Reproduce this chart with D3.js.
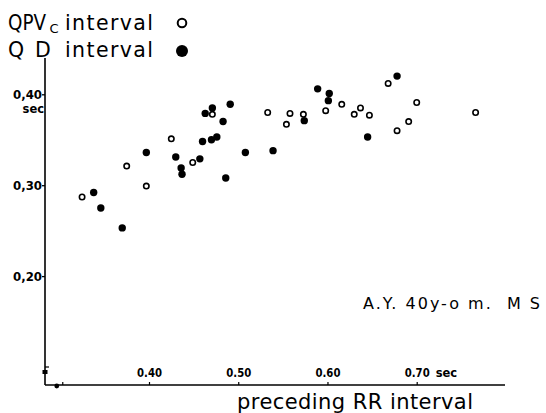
<!DOCTYPE html>
<html>
<head>
<meta charset="utf-8">
<script src="https://cdn.jsdelivr.net/npm/d3@7/dist/d3.min.js"></script>
<style>
  html, body { margin: 0; padding: 0; background: #fff; }
  svg { display: block; }
  text { font-family: "DejaVu Sans", sans-serif; fill: #000; }
</style>
</head>
<body>
<script>
// ---- data ----
// QPVc interval (open circles): [preceding RR (sec), interval (sec)]
const qpvcRR  = [0.325,0.375,0.397,0.425,0.449,0.471,0.533,0.558,0.554,0.573,0.598,0.616,0.630,0.637,0.647,0.668,0.700,0.691,0.678,0.766];
const qpvcVal = [0.287,0.321,0.299,0.351,0.325,0.378,0.380,0.379,0.367,0.378,0.382,0.389,0.378,0.385,0.377,0.412,0.391,0.370,0.360,0.380];
// QD interval (filled circles)
const qdRR  = [0.338,0.346,0.370,0.397,0.430,0.436,0.437,0.457,0.460,0.470,0.476,0.463,0.471,0.483,0.491,0.508,0.486,0.539,0.589,0.602,0.601,0.574,0.645,0.678];
const qdVal = [0.292,0.275,0.253,0.336,0.331,0.319,0.312,0.329,0.348,0.350,0.353,0.379,0.385,0.370,0.389,0.336,0.308,0.338,0.406,0.401,0.393,0.371,0.353,0.420];

const xTicks = [0.40, 0.50, 0.60, 0.70];
const xTickLabels = ["0.40", "0.50", "0.60", "0.70"];
const yTicks = [0.20, 0.30, 0.40];
const yTickLabels = ["0,20", "0,30", "0,40"];

const W = 546, H = 413;
const svg = d3.select("body").append("svg").attr("width", W).attr("height", H);

// scales
const x = d3.scaleLinear().domain([0.40, 0.70]).range([149, 416.7]);
const y = d3.scaleLinear().domain([0.10, 0.40]).range([367, 94.3]);

const axisX0 = 45, axisY0 = 385, axisXEnd = 505, axisYTop = 58;

// axis lines
svg.append("line").attr("x1", axisX0).attr("x2", axisX0).attr("y1", axisYTop).attr("y2", axisY0)
  .attr("stroke", "#000").attr("stroke-width", 1.6);
svg.append("line").attr("x1", axisX0).attr("x2", axisXEnd).attr("y1", axisY0).attr("y2", axisY0)
  .attr("stroke", "#000").attr("stroke-width", 1.3);

// y axis ticks via d3 axis
const yAxis = d3.axisLeft(y).tickValues(yTicks).tickSize(3)
  .tickFormat((d, i) => yTickLabels[i]);
const gy = svg.append("g").attr("transform", `translate(${axisX0},0)`).call(yAxis);
gy.select(".domain").remove();
gy.selectAll(".tick line").attr("stroke-width", 1.3);
gy.selectAll(".tick text").attr("x", -3).attr("font-size", 13).attr("font-weight", "bold")
  .attr("font-family", "DejaVu Sans").attr("dy", "0.36em")
  .attr("textLength", 29).attr("lengthAdjust", "spacingAndGlyphs");
svg.append("text").attr("x", 44).attr("y", y(0.40) + 18.5).attr("text-anchor", "end")
  .attr("font-size", 11.5).attr("font-weight", "bold").text("sec");

// y break marks (0.10)
svg.append("line").attr("x1", axisX0).attr("x2", axisX0 + 4).attr("y1", y(0.10)).attr("y2", y(0.10))
  .attr("stroke", "#000").attr("stroke-width", 1.2);
svg.append("rect").attr("x", axisX0 - 2.5).attr("y", y(0.10) + 3).attr("width", 5).attr("height", 4).attr("fill", "#000");

// x axis ticks via d3 axis (ticks pointing up, labels above)
const xAxis = d3.axisTop(x).tickValues(xTicks).tickSize(3)
  .tickFormat((d, i) => xTickLabels[i]);
const gx = svg.append("g").attr("transform", `translate(0,${axisY0})`).call(xAxis);
gx.select(".domain").remove();
gx.selectAll(".tick line").attr("stroke-width", 1.2);
gx.selectAll(".tick text").attr("y", -8).attr("font-size", 13).attr("font-weight", "bold")
  .attr("font-family", "DejaVu Sans")
  .attr("textLength", 25).attr("lengthAdjust", "spacingAndGlyphs");
svg.append("text").attr("x", x(0.70) + 19).attr("y", axisY0 - 8)
  .attr("font-size", 11.5).attr("font-weight", "bold").text("sec");

// x break marks (0.30)
svg.append("line").attr("x1", x(0.30) + 3).attr("x2", x(0.30) + 3).attr("y1", axisY0).attr("y2", axisY0 - 3)
  .attr("stroke", "#000").attr("stroke-width", 1.2);
svg.append("circle").attr("cx", x(0.30) - 3).attr("cy", axisY0 + 1).attr("r", 2.4).attr("fill", "#000");

// data points
const qpvc = qpvcRR.map((r, i) => ({ r, v: qpvcVal[i] }));
const qd = qdRR.map((r, i) => ({ r, v: qdVal[i] }));

svg.append("g").selectAll("circle").data(qd).join("circle")
  .attr("cx", d => x(d.r)).attr("cy", d => y(d.v)).attr("r", 3.7).attr("fill", "#000");
svg.append("g").selectAll("circle").data(qpvc).join("circle")
  .attr("cx", d => x(d.r)).attr("cy", d => y(d.v)).attr("r", 2.7)
  .attr("fill", "#fff").attr("stroke", "#000").attr("stroke-width", 1.6);

// legend
const lg = svg.append("g");
lg.append("text").attr("x", 8).attr("y", 30).attr("font-size", 20.5)
  .attr("textLength", 38).attr("lengthAdjust", "spacingAndGlyphs").text("QPV");
lg.append("text").attr("x", 49.5).attr("y", 32.5).attr("font-size", 13).text("C");
lg.append("text").attr("x", 65).attr("y", 30).attr("font-size", 20.5)
  .attr("textLength", 88).attr("lengthAdjust", "spacing").text("interval");
lg.append("circle").attr("cx", 182).attr("cy", 23).attr("r", 4.3)
  .attr("fill", "#fff").attr("stroke", "#000").attr("stroke-width", 2);

lg.append("text").attr("x", 8).attr("y", 57).attr("font-size", 20.5).text("Q");
lg.append("text").attr("x", 35).attr("y", 57).attr("font-size", 20.5).text("D");
lg.append("text").attr("x", 65).attr("y", 57).attr("font-size", 20.5)
  .attr("textLength", 88).attr("lengthAdjust", "spacing").text("interval");
lg.append("circle").attr("cx", 182).attr("cy", 51).attr("r", 6).attr("fill", "#000");

// annotation
svg.append("text").attr("x", 363).attr("y", 309).attr("font-size", 16)
  .attr("xml:space", "preserve").style("white-space", "pre")
  .attr("textLength", 177).attr("lengthAdjust", "spacing").text("A.Y. 40y-o m.  M S");

// x axis title
svg.append("text").attr("x", 237).attr("y", 409).attr("font-size", 21)
  .attr("textLength", 236).attr("lengthAdjust", "spacing").text("preceding RR interval");
</script>
</body>
</html>
